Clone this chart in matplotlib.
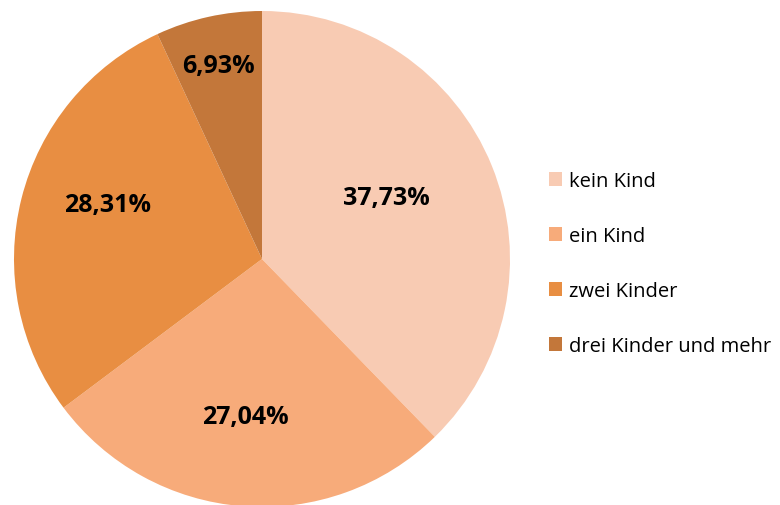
import numpy as np
import matplotlib.pyplot as plt
from matplotlib.patches import Patch

# data
categories = ['kein Kind', 'ein Kind', 'zwei Kinder', 'drei Kinder und mehr']
shares = [37.73, 27.04, 28.31, 6.93]
labels = ['37,73%', '27,04%', '28,31%', '6,93%']
colors = ['#F8CBB3', '#F7AB7A', '#E88E42', '#C3773A']
label_r = [0.56, 0.64, 0.66, 0.80]      # radial position of each percentage label
label_shift = [4.4, -1.5, -5.5, 0.3]    # angular nudge (deg) from wedge middle

plt.rcParams['font.family'] = ['Open Sans', 'DejaVu Sans']

fig = plt.figure(figsize=(7.8, 5.06), dpi=100)
fig.patch.set_facecolor('white')

# pie axes: centre ~(262,260) px, radius ~248 px
ax = fig.add_axes([14/780, (506 - 508)/506, 496/780, 496/506])
wedges, _ = ax.pie(shares, colors=colors, startangle=90, counterclock=False,
                   wedgeprops=dict(linewidth=0))
ax.set_xlim(-1, 1)
ax.set_ylim(-1, 1)
ax.set_aspect('equal')
ax.axis('off')

for w, txt, r, d in zip(wedges, labels, label_r, label_shift):
    ang = np.deg2rad((w.theta1 + w.theta2) / 2 + d)
    ax.text(r * np.cos(ang), r * np.sin(ang), txt, ha='center', va='center',
            fontsize=18, fontweight='bold', color='black')

handles = [Patch(facecolor=c, edgecolor='none') for c in colors]
fig.legend(handles, categories, loc='center left', bbox_to_anchor=(549/780, 1 - 264.5/506),
           frameon=False, fontsize=14.5, labelspacing=1.74, handlelength=0.65,
           handleheight=0.65, handletextpad=0.35, borderaxespad=0, borderpad=0)

fig.savefig('out.png', dpi=100)
